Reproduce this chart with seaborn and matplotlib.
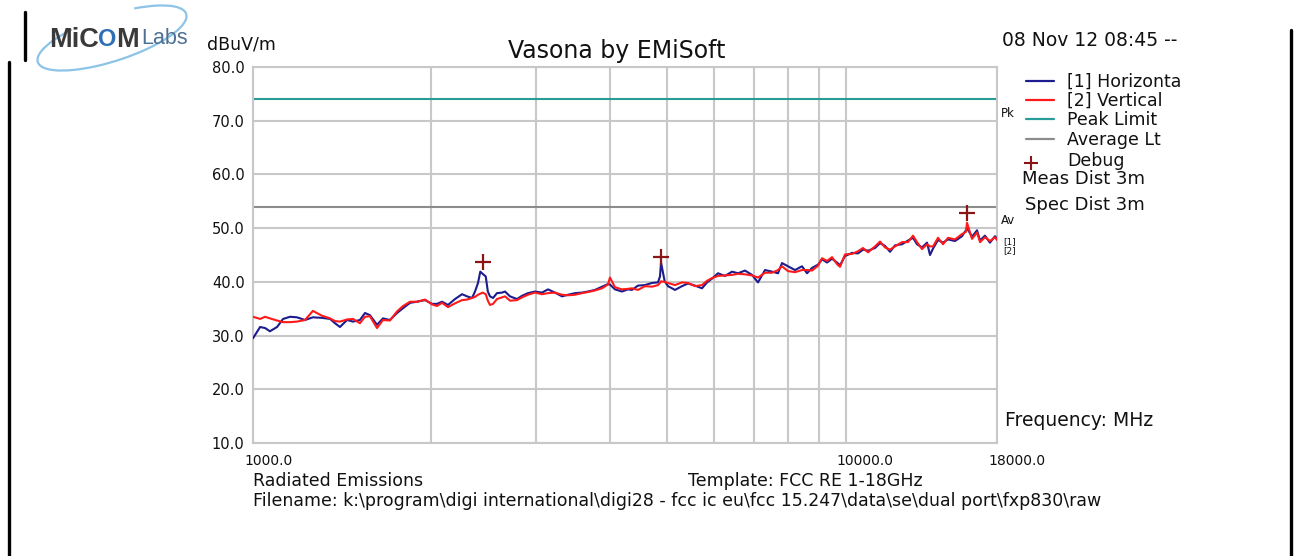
import matplotlib
matplotlib.use("Agg")
import matplotlib.pyplot as plt
import matplotlib.transforms as mtransforms
from matplotlib.patches import Arc
from matplotlib.lines import Line2D
import pandas as pd
import seaborn as sns

freq_mhz = [1000, 1028, 1048, 1068, 1098, 1124, 1155, 1186, 1224, 1262,
            1307, 1349, 1375, 1402, 1441, 1475, 1515, 1545, 1575, 1619,
            1657, 1702, 1750, 1791, 1841, 1891, 1951, 2005, 2044, 2084,
            2133, 2192, 2253, 2297, 2342, 2369, 2397, 2418, 2440, 2470,
            2490, 2511, 2541, 2580, 2631, 2662, 2714, 2789, 2843, 2910,
            2991, 3073, 3146, 3232, 3322, 3400, 3494, 3590, 3674, 3776,
            3880, 3971, 4002, 4081, 4193, 4292, 4359, 4462, 4585, 4712,
            4823, 4860, 4880, 4950, 5014, 5152, 5294, 5419, 5569, 5722,
            5835, 5949, 6089, 6257, 6430, 6581, 6763, 6949, 7113, 7309,
            7511, 7688, 7808, 7992, 8213, 8439, 8605, 8774, 8980, 9121,
            9300, 9483, 9669, 9782, 9973, 10248, 10490, 10696, 10906, 11206,
            11426, 11650, 11879, 12112, 12446, 12739, 12989, 13193, 13451, 13716,
            13876, 14039, 14314, 14595, 14881, 15291, 15712, 15950, 16020, 16335,
            16656, 16851, 17178, 17515, 17859, 18000]

horizontal_dbuv = [29.5, 31.6, 31.4, 30.8, 31.6, 33.1, 33.5, 33.4, 32.9, 33.4,
                   33.3, 33.1, 32.3, 31.6, 32.9, 32.6, 32.9, 34.2, 33.8, 32.0,
                   33.2, 32.9, 34.2, 35.1, 36.1, 36.3, 36.6, 35.9, 35.9, 36.3,
                   35.7, 36.8, 37.7, 37.3, 37.0, 38.2, 39.8, 41.9, 41.5, 41.0,
                   38.2, 37.3, 37.0, 37.9, 38.0, 38.2, 37.3, 36.8, 37.4, 37.9,
                   38.2, 38.0, 38.6, 38.0, 37.3, 37.6, 37.9, 38.0, 38.2, 38.5,
                   39.1, 39.6, 39.5, 38.6, 38.2, 38.6, 38.5, 39.3, 39.4, 39.8,
                   39.9, 41.0, 43.6, 40.1, 39.2, 38.5, 39.2, 39.7, 39.3, 38.8,
                   39.9, 40.6, 41.6, 41.1, 41.9, 41.6, 42.1, 41.3, 39.9, 42.2,
                   41.9, 41.6, 43.5, 42.9, 42.2, 42.9, 41.6, 42.6, 43.2, 44.2,
                   43.6, 44.3, 43.6, 43.1, 44.8, 45.4, 45.3, 46.0, 45.8, 46.3,
                   47.2, 46.7, 45.6, 46.8, 47.0, 47.7, 48.2, 47.0, 46.4, 47.3,
                   45.0, 46.2, 47.8, 47.3, 47.9, 47.6, 48.5, 49.6, 50.0, 48.4,
                   49.6, 47.7, 48.6, 47.3, 48.5, 48.0]

vertical_dbuv = [33.5, 33.1, 33.5, 33.2, 32.8, 32.5, 32.5, 32.6, 32.9, 34.6,
                 33.7, 33.2, 32.7, 32.6, 33.0, 33.1, 32.3, 33.5, 33.6, 31.4,
                 32.9, 32.8, 34.5, 35.5, 36.3, 36.3, 36.7, 35.8, 35.5, 36.1,
                 35.3, 36.0, 36.6, 36.7, 37.0, 37.2, 37.6, 37.8, 38.0, 37.7,
                 36.5, 35.7, 35.9, 36.8, 37.1, 37.3, 36.5, 36.6, 37.1, 37.6,
                 38.0, 37.7, 37.9, 38.0, 37.6, 37.5, 37.6, 37.9, 38.1, 38.4,
                 38.8, 39.5, 40.8, 39.0, 38.6, 38.7, 38.8, 38.5, 39.2, 39.1,
                 39.4, 39.8, 40.1, 40.0, 39.8, 39.4, 39.9, 39.8, 39.2, 39.4,
                 40.2, 40.7, 41.1, 41.2, 41.3, 41.5, 41.4, 41.2, 40.8, 41.7,
                 41.7, 42.2, 42.9, 42.0, 41.8, 42.2, 42.2, 42.1, 43.0, 44.4,
                 43.9, 44.6, 43.3, 42.8, 45.1, 45.2, 45.7, 46.3, 45.5, 46.6,
                 47.5, 46.4, 46.0, 46.6, 47.4, 47.4, 48.6, 47.4, 46.1, 47.0,
                 46.6, 46.6, 48.2, 47.0, 48.2, 47.9, 48.9, 49.3, 51.0, 48.0,
                 49.2, 47.4, 48.3, 47.6, 48.3, 47.8]

peak_limit = 74.0
average_limit = 54.0
debug_freq = [2440, 4880, 16000]
debug_level = [43.7, 44.7, 52.9]

y_ticks = [10, 20, 30, 40, 50, 60, 70, 80]
x_grid = [1000, 2000, 3000, 4000, 5000, 6000, 7000, 8000, 9000, 10000]
x_ticks = [1000, 10000, 18000]
x_tick_labels = ["1000.0", "10000.0", "18000.0"]

legend_labels = ["[1] Horizonta", "[2] Vertical", "Peak Limit", "Average Lt", "Debug"]

W, H = 1309, 556
c_blue = "#1c1c8e"
c_red = "#ff1a1a"
c_peak = "#2a9c98"
c_avg = "#8c8c8c"
c_debug = "#8b1414"
c_grid = "#c8c8c8"

sns.set_style("white")
plt.rcParams["font.family"] = ["DejaVu Sans"]

fig = plt.figure(figsize=(W / 100, H / 100), dpi=100)
ax = fig.add_axes([253 / W, 1 - 443 / H, (997 - 253) / W, (443 - 67) / H])

df = pd.DataFrame({
    "freq": freq_mhz * 2,
    "level": horizontal_dbuv + vertical_dbuv,
    "trace": ["[1] Horizontal"] * len(freq_mhz) + ["[2] Vertical"] * len(freq_mhz),
})

for g in x_grid:
    ax.axvline(g, color=c_grid, lw=1.5, zorder=0)
for t in y_ticks:
    ax.axhline(t, color=c_grid, lw=1.5, zorder=0)

ax.axhline(peak_limit, color=c_peak, lw=1.5, zorder=2)
ax.axhline(average_limit, color=c_avg, lw=1.5, zorder=2)

sns.lineplot(data=df, x="freq", y="level", hue="trace",
             palette=[c_blue, c_red], estimator=None, sort=False,
             lw=1.5, legend=False, ax=ax, zorder=3)
ax.plot(debug_freq, debug_level, ls="none", marker="+", ms=11, mew=1.6,
        color=c_debug, zorder=4)

ax.set_xscale("log")
ax.set_xlim(1000, 18000)
ax.set_ylim(10, 80)
ax.set_xlabel("")
ax.set_ylabel("")
ax.minorticks_off()
ax.set_yticks(y_ticks)
ax.set_yticklabels([f"{v:.1f}" for v in y_ticks], fontsize=10.5)
ax.set_xticks(x_ticks)
ax.set_xticklabels(x_tick_labels, fontsize=10, ha="left")
ax.tick_params(axis="both", length=0, colors="#111111")
ax.tick_params(axis="y", pad=6)
ax.tick_params(axis="x", pad=8)
shift = mtransforms.ScaledTranslation(-9 / 100, 0, fig.dpi_scale_trans)
for lbl in ax.get_xticklabels():
    lbl.set_transform(lbl.get_transform() + shift)
for s in ax.spines.values():
    s.set_color(c_grid)
    s.set_linewidth(1.5)


def ftext(x, y, s, **kw):
    kw.setdefault("color", "#111111")
    kw.setdefault("va", "center")
    fig.text(x / W, 1 - y / H, s, **kw)


# Logo
ftext(49, 40, "MiC", fontsize=19.5, fontweight="bold", color="#3a3a3a",
      family="Liberation Sans")
ftext(98, 40, "O", fontsize=17, fontweight="bold", color="#2f6fb5",
      family="Liberation Sans")
ftext(116, 40, "M", fontsize=19.5, fontweight="bold", color="#3a3a3a",
      family="Liberation Sans")
ftext(141, 39, "Labs", fontsize=15.5, color="#4d7194", family="Liberation Sans")
swoosh = Arc((112, H - 38), 156, 46, angle=18, theta1=150, theta2=395,
             color="#8cc3e6", lw=1.6, transform=mtransforms.IdentityTransform())
fig.add_artist(swoosh)

# Rahmenlinien
for x0, y0, y1 in [(25, 12, 60), (9, 62, 556), (1291, 30, 556)]:
    fig.add_artist(Line2D([x0 / W, x0 / W], [1 - y0 / H, 1 - y1 / H],
                          color="black", lw=2.4, transform=fig.transFigure))

ftext(207, 45, "dBuV/m", fontsize=12.5)
ftext(617, 51, "Vasona by EMiSoft", fontsize=17, ha="center")
ftext(1002, 41, "08 Nov 12 08:45 --", fontsize=13.5)

# Legende
leg_y = [81, 100, 119, 139, 160]
for yy, c in zip(leg_y[:4], [c_blue, c_red, c_peak, c_avg]):
    fig.add_artist(Line2D([1026 / W, 1054 / W], [1 - yy / H, 1 - yy / H],
                          color=c, lw=1.6, transform=fig.transFigure))
fig.add_artist(Line2D([1031 / W], [1 - 163 / H], marker="+", ms=10, mew=1.5,
                      color=c_debug, transform=fig.transFigure))
for yy, s in zip(leg_y, legend_labels):
    ftext(1067, yy + 1, s, fontsize=12.5)

ftext(1022, 179, "Meas Dist 3m", fontsize=13)
ftext(1025, 205, "Spec Dist 3m", fontsize=13)
ftext(1001, 113, "Pk", fontsize=8.5)
ftext(1001, 220, "Av", fontsize=8.5)
ftext(1003, 242, "[1]", fontsize=6.5)
ftext(1003, 251, "[2]", fontsize=6.5)
ftext(1005, 421, "Frequency: MHz", fontsize=13.5)

# Fußzeile
ftext(253, 481, "Radiated Emissions", fontsize=12.5)
ftext(688, 481, "Template: FCC RE 1-18GHz", fontsize=12.5)
ftext(253, 501,
      "Filename: k:\\program\\digi international\\digi28 - fcc ic eu\\fcc 15.247\\data\\se\\dual port\\fxp830\\raw",
      fontsize=12.5)

fig.savefig("out.png", dpi=100)
